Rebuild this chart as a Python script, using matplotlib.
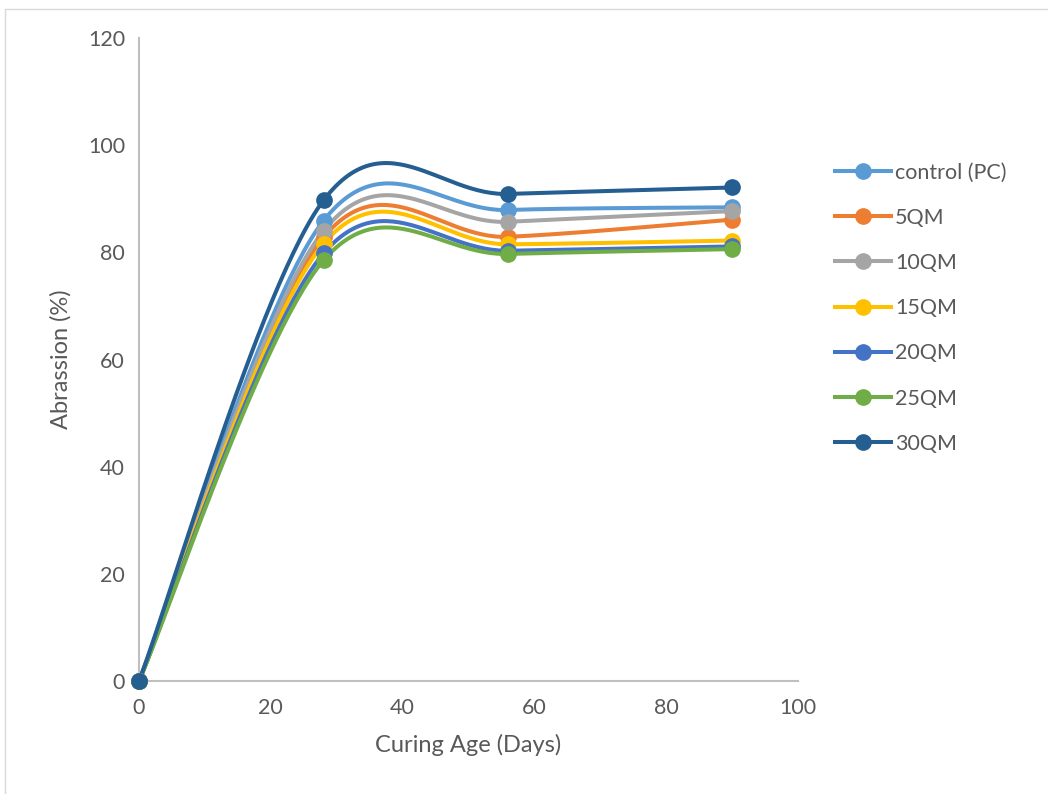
import numpy as np
import matplotlib.pyplot as plt
from matplotlib.lines import Line2D
from matplotlib.patches import Rectangle

plt.rcParams['font.family'] = ['Lato', 'DejaVu Sans']

# Curing age (days) and abrasion values per mix
tage = [0, 28, 56, 90]
serien = ['control (PC)', '5QM', '10QM', '15QM', '20QM', '25QM', '30QM']
werte = {
    'control (PC)': [0, 85.9, 87.9, 88.4],
    '5QM':          [0, 82.8, 82.9, 86.1],
    '10QM':         [0, 84.0, 85.7, 87.7],
    '15QM':         [0, 81.6, 81.5, 82.2],
    '20QM':         [0, 79.8, 80.3, 81.1],
    '25QM':         [0, 78.5, 79.7, 80.6],
    '30QM':         [0, 89.7, 90.9, 92.1],
}
farben = ['#5B9BD5', '#ED7D31', '#A5A5A5', '#FFC000', '#4472C4', '#70AD47', '#255E91']


def glatt(x, y, n=60):
    # Bezier-Glättung wie bei Office-Diagrammen (Tangente = (P[i+1]-P[i-1])/6)
    p = np.column_stack([x, y]).astype(float)
    ext = np.vstack([p[0], p, p[-1]])
    xs, ys = [], []
    t = np.linspace(0, 1, n)[:, None]
    for i in range(len(p) - 1):
        p0, p3 = p[i], p[i + 1]
        c1 = p0 + (ext[i + 2] - ext[i]) / 6
        c2 = p3 - (ext[i + 3] - ext[i + 1]) / 6
        b = ((1 - t) ** 3) * p0 + 3 * ((1 - t) ** 2) * t * c1 + 3 * (1 - t) * t ** 2 * c2 + t ** 3 * p3
        xs.append(b[:, 0])
        ys.append(b[:, 1])
    return np.concatenate(xs), np.concatenate(ys)


fig = plt.figure(figsize=(10.48, 7.94), dpi=100)
ax = fig.add_axes([139 / 1048, 1 - 681 / 794, (798 - 139) / 1048, (681 - 38) / 794])

for name, farbe in zip(serien, farben):
    gx, gy = glatt(tage, werte[name])
    ax.plot(gx, gy, color=farbe, lw=2.9, solid_capstyle='round', zorder=2, clip_on=False)
    ax.plot(tage, werte[name], 'o', color=farbe, ms=11, zorder=3, clip_on=False)

ax.set_xlim(0, 100)
ax.set_ylim(0, 120)
ax.set_xticks(range(0, 101, 20))
ax.set_yticks(range(0, 121, 20))
ax.tick_params(length=0, labelsize=15.5, colors='#595959', pad=10)
ax.tick_params(axis='x', pad=12)
for s in ['top', 'right']:
    ax.spines[s].set_visible(False)
for s in ['left', 'bottom']:
    ax.spines[s].set_color('#BFBFBF')
    ax.spines[s].set_linewidth(1.5)
ax.spines['bottom'].set_zorder(1)

ax.set_xlabel('Curing Age (Days)', fontsize=17, color='#595959', labelpad=12)
ax.set_ylabel('Abrassion (%)', fontsize=17, color='#595959', labelpad=12)

handles = [Line2D([], [], color=f, lw=2.9, marker='o', ms=11) for f in farben]
fig.legend(handles, serien, loc='upper left', bbox_to_anchor=(826 / 1048, 1 - 154 / 794),
           frameon=False, fontsize=15.5, labelcolor='#595959', handlelength=2.6,
           handletextpad=0.2, labelspacing=1.17, borderaxespad=0)

# heller Diagrammrahmen
fig.patches.append(Rectangle((5 / 1048, -0.1), 1.2, 1 - 9 / 794 + 0.1, transform=fig.transFigure,
                             fill=False, edgecolor='#D9D9D9', lw=1, zorder=0))

fig.savefig('out.png', dpi=100)
